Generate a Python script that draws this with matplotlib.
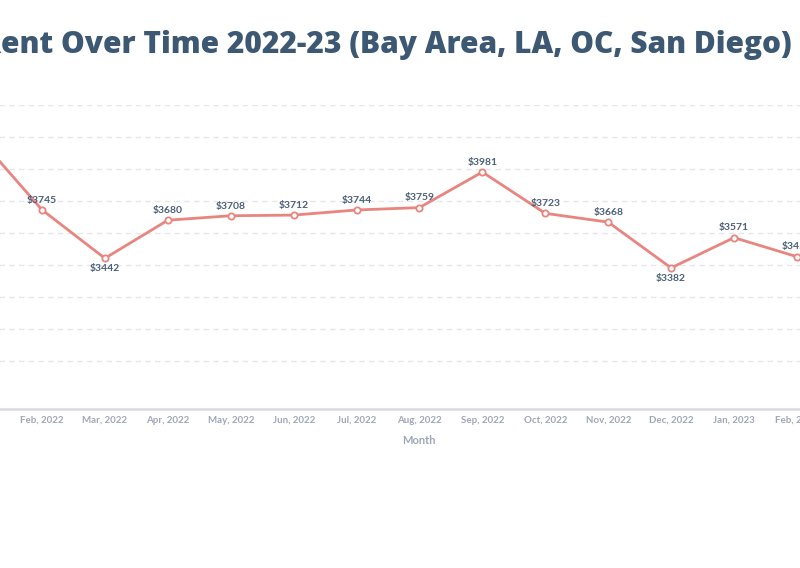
import matplotlib.pyplot as plt

# Average rent per month (Jan 2022 is off the left edge in the reference)
months = ["Jan, 2022", "Feb, 2022", "Mar, 2022", "Apr, 2022", "May, 2022", "Jun, 2022",
          "Jul, 2022", "Aug, 2022", "Sep, 2022", "Oct, 2022", "Nov, 2022", "Dec, 2022",
          "Jan, 2023", "Feb, 2023"]
rent = [4195, 3745, 3442, 3680, 3708, 3712, 3744, 3759, 3981, 3723, 3668, 3382, 3571, 3452]
label_below = [False, False, True, False, False, False, False, False, False, False,
               False, True, False, False]
grid_values = [2800, 3000, 3200, 3400, 3600, 3800, 4000, 4200, 4400]

line_color = "#e8857f"
text_color = "#3d5873"
tick_color = "#9ea7b8"

fig = plt.figure(figsize=(8, 5.68), dpi=100)
ax = fig.add_axes([-0.0655, 0.2799, 1.101, 0.5352])

x = list(range(len(months)))
ax.plot(x, rent, color=line_color, lw=2, marker="o", markersize=4.5,
        markerfacecolor="white", markeredgecolor=line_color, markeredgewidth=1.3, zorder=3)

for i, v in enumerate(rent):
    dy = -7.5 if label_below[i] else 7
    ax.annotate(f"${v}", (i, v), xytext=(0, dy), textcoords="offset points",
                ha="center", va="center", fontsize=7.5, fontweight="bold",
                color="#4b5f78", family="Lato")

ax.set_xlim(-0.5, len(months) - 0.5)
ax.set_ylim(2500, 4400)
ax.set_xticks(x)
ax.set_xticklabels(months, fontsize=7, color=tick_color, family="Lato", fontweight="bold")
ax.tick_params(axis="x", length=0, pad=5)
ax.set_yticks(grid_values)
ax.tick_params(axis="y", left=False, labelleft=False)
ax.grid(axis="y", color="#e6e6ea", linestyle=(0, (4, 3)), lw=1)
ax.set_axisbelow(True)

for s in ["top", "left", "right"]:
    ax.spines[s].set_visible(False)
ax.spines["bottom"].set_color("#d9d9e2")
ax.spines["bottom"].set_linewidth(1.8)

ax.set_xlabel("Month", fontsize=8, color=tick_color, family="Lato", fontweight="bold")
ax.xaxis.set_label_coords((419 + 52.4) / 880.9, -0.085)

fig.text(792 / 800, 1 - 45 / 568, "Average Rent Over Time 2022-23 (Bay Area, LA, OC, San Diego)",
         ha="right", va="center", fontsize=21.5, fontweight="heavy", color=text_color,
         family="Open Sans")

fig.savefig("out.png", dpi=100)
